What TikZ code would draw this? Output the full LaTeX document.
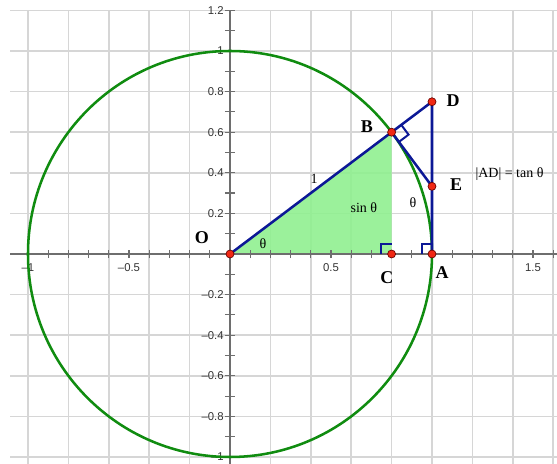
\documentclass[tikz,border=0pt]{standalone}
\usepackage{fontspec}
\setmainfont{Liberation Serif}
\newfontfamily\ticksfont{Liberation Sans}
\usetikzlibrary{calc}
\definecolor{gridgray}{RGB}{214,214,214}
\definecolor{axisgray}{RGB}{110,110,110}
\definecolor{circgreen}{RGB}{16,140,16}
\definecolor{fillgreen}{RGB}{144,240,144}
\definecolor{navyline}{RGB}{12,24,150}
\definecolor{ptred}{RGB}{240,40,20}
\begin{document}
\begin{tikzpicture}[x=151.5pt,y=152.25pt,
  gridline/.style={gridgray,line width=1.1pt},
  axisline/.style={axisgray,line width=0.9pt},
  ticklab/.style={font=\ticksfont\fontsize{8.5}{10}\selectfont,text=black!80,inner sep=0pt},
  ptlab/.style={font=\fontsize{13.5}{15}\selectfont\bfseries,inner sep=0pt},
  txtlab/.style={font=\fontsize{10.5}{12}\selectfont,inner sep=0pt},
  pt/.style={circle,fill=ptred,draw=black!60!red,line width=0.5pt,inner sep=0pt,minimum size=6pt},
  seg/.style={navyline,line width=1.9pt,line join=round},
  rmark/.style={navyline,line width=1.5pt},
  ]
\useasboundingbox (-1.1386,-1.0345) rectangle (1.6188,1.2512);
% points
\coordinate (O) at (0,0);
\coordinate (A) at (1,0);
\coordinate (B) at (0.8,0.6);
\coordinate (C) at (0.8,0);
\coordinate (D) at (1,0.75);
\coordinate (E) at (1,0.3333);
% grid
\foreach \i in {-5,...,8} \draw[gridline] (\i*0.2,1.2) -- (\i*0.2,-1.1);
\foreach \j in {-5,...,6} \draw[gridline] (-1.089,\j*0.2) -- (1.65,\j*0.2);
% green triangle
\fill[fillgreen,fill opacity=0.9] (O) -- (B) -- (C) -- cycle;
% axes
\draw[axisline] (-1.089,0) -- (1.65,0);
\draw[axisline] (0,1.2) -- (0,-1.1);
\foreach \i in {-10,...,16} \draw[axisline] (\i*0.1,-0.02) -- (\i*0.1,0.02);
\foreach \j in {-10,...,12} \draw[axisline] (-0.025,\j*0.1) -- (0.025,\j*0.1);
% tick labels
\node[ticklab] (xl1) at (-1,-0.066) {–1};
\node[ticklab] (xl2) at (-0.5,-0.066) {–0.5};
\node[ticklab] (xl3) at (0.5,-0.066) {0.5};
\node[ticklab] (xl4) at (1.5,-0.066) {1.5};
\node[ticklab,anchor=east] (yl1) at (-0.03,1.2) {1.2};
\node[ticklab,anchor=east] (yl2) at (-0.03,1) {1};
\node[ticklab,anchor=east] (yl3) at (-0.03,0.8) {0.8};
\node[ticklab,anchor=east] (yl4) at (-0.03,0.6) {0.6};
\node[ticklab,anchor=east] (yl5) at (-0.03,0.4) {0.4};
\node[ticklab,anchor=east] (yl6) at (-0.03,0.2) {0.2};
\node[ticklab,anchor=east] (yl7) at (-0.03,-0.2) {–0.2};
\node[ticklab,anchor=east] (yl8) at (-0.03,-0.4) {–0.4};
\node[ticklab,anchor=east] (yl9) at (-0.03,-0.6) {–0.6};
\node[ticklab,anchor=east] (yl10) at (-0.03,-0.8) {–0.8};
\node[ticklab,anchor=east] (yl11) at (-0.03,-1) {–1};
% unit circle
\draw[circgreen,line width=1.9pt] (O) circle (1);
% right angle marks
\draw[rmark] ($(C)+(-0.05,0)$) -- ++(0,0.05) -- ++(0.05,0);
\draw[rmark] ($(A)+(-0.05,0)$) -- ++(0,0.05) -- ++(0.05,0);
\draw[rmark] ($(B)+(0.048,0.036)$) -- ++(0.036,-0.048) -- ($(B)+(0.036,-0.048)$);
% segments
\draw[seg] (O) -- (B) -- (D) -- (A);
\draw[seg] (B) -- (E);
% point markers
\node[pt] (pO) at (O) {};
\node[pt] (pA) at (A) {};
\node[pt] (pB) at (B) {};
\node[pt] (pC) at (C) {};
\node[pt] (pD) at (D) {};
\node[pt] (pE) at (E) {};
% labels
\node[ptlab] (lO) at (-0.139,0.079) {O};
\node[ptlab] (lB) at (0.678,0.626) {B};
\node[ptlab] (lD) at (1.104,0.754) {D};
\node[ptlab] (lE) at (1.119,0.340) {E};
\node[ptlab] (lC) at (0.777,-0.118) {C};
\node[ptlab] (lA) at (1.050,-0.089) {A};
\node[txtlab] (one) at (0.416,0.369) {1};
\node[txtlab] (sin) at (0.663,0.227) {sin θ};
\node[txtlab] (th1) at (0.163,0.049) {θ};
\node[txtlab] (th2) at (0.906,0.251) {θ};
\node[txtlab] (tan) at (1.384,0.394) {|AD| = tan θ};
\end{tikzpicture}
\end{document}
